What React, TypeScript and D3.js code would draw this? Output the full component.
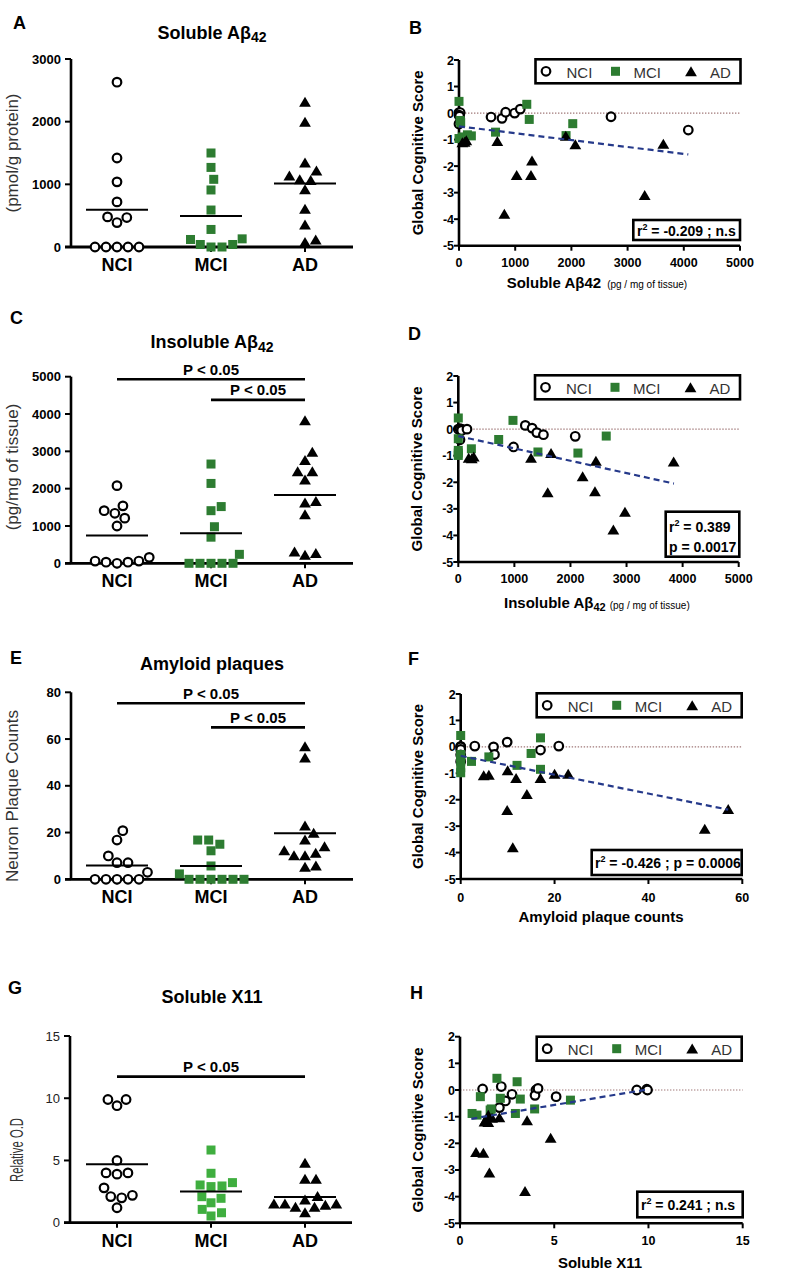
import React from 'react';
import * as d3 from 'd3';

const FONT = "'Liberation Sans', Arial, Helvetica, sans-serif";
const GROUPS = ['NCI', 'MCI', 'AD'];
const GREEN = '#2d7c31';
const GREEN_G = '#3fae3f';
const NAVY = '#25398a';

// ---------- Panel A: Soluble Abeta42 (pmol/g protein)
const solubleNCI = [2630, 1420, 1040, 720, 480, 390, 470, 0, 0, 0, 0, 0];
const solubleMCI = [1500, 1270, 1080, 910, 590, 280, 120, 40, 0, 0, 40, 130];
const solubleAD = [2310, 1990, 1340, 1210, 1130, 1070, 1060, 910, 600, 350, 110, 70];
const solubleTicks = [0, 1000, 2000, 3000];

// ---------- Panel C: Insoluble Abeta42 (pg/mg tissue)
const insolubleNCI = [2080, 1540, 1410, 1340, 1210, 1000, 160, 60, 60, 30, 30, 0];
const insolubleMCI = [2660, 2140, 1520, 1410, 980, 700, 240, 0, 0, 0, 0, 0];
const insolubleAD = [3820, 2970, 2750, 2450, 2450, 2230, 1650, 1610, 1300, 300, 260, 210];
const insolubleTicks = [0, 1000, 2000, 3000, 4000, 5000];
const insolubleSig = [4930, 4380];

// ---------- Panel E: Amyloid plaques
const plaqueNCI = [20.8, 16.8, 10, 7.1, 7.1, 3, 0, 0, 0, 0, 0];
const plaqueMCI = [16.8, 16.8, 15, 12.2, 5.7, 2.3, 0, 0, 0, 0, 0, 0];
const plaqueAD = [56.7, 51.8, 22.8, 19.7, 16.8, 13.9, 12.2, 11.1, 10, 10, 5.7, 5.1];
const plaqueTicks = [0, 20, 40, 60, 80];
const plaqueSig = [75.3, 65];

// ---------- Panel G: Soluble X11 (relative O.D)
const x11NCI = [9.9, 9.4, 9.9, 5.0, 4.0, 3.9, 4.0, 2.8, 2.2, 2.1, 2.0, 1.2];
const x11MCI = [5.84, 3.97, 3.22, 3.03, 2.95, 2.9, 2.09, 1.96, 1.6, 1.07, 0.8, 0.54];
const x11AD = [4.77, 3.49, 3.49, 2.09, 1.82, 1.5, 1.5, 1.5, 1.4, 1.24, 1.24, 0.8];
const x11Ticks = [0, 5, 10, 15];
const x11Sig = [11.74];

// ---------- Scatter panels: [x, global cognitive score]
const scoreTicks = [-5, -4, -3, -2, -1, 0, 1, 2];

const bNCI = [[0, 0.02], [20, 0.02], [0, -0.08], [10, -0.12], [0, -0.41], [570, -0.15], [765, -0.2], [830, 0.03], [990, 0.0], [1090, 0.15], [2705, -0.14], [4080, -0.64]];
const bMCI = [[0, 0.44], [20, -0.28], [30, -0.36], [0, -0.96], [150, -0.82], [220, -0.86], [650, -0.72], [1206, 0.33], [1250, -0.24], [1905, -0.85], [2024, -0.4], [60, -0.9]];
const bAD = [[100, -1.1], [130, -1.05], [60, -1.12], [682, -1.08], [807, -3.82], [1026, -2.36], [1281, -2.36], [1299, -1.81], [1900, -0.88], [2070, -1.2], [3304, -3.11], [3636, -1.18]];
const bXTicks = [0, 1000, 2000, 3000, 4000, 5000];
const bRegX = [0, 4080];
const bRegCoef = [-0.5, -0.00026];

const dNCI = [[0, 0.0], [30, 0.02], [60, 0.0], [60, -0.05], [30, -0.4], [155, 0.0], [985, -0.67], [1195, 0.14], [1316, 0.04], [1400, -0.13], [1518, -0.21], [2085, -0.27]];
const dMCI = [[0, 0.42], [0, -0.36], [0, -0.8], [0, -0.99], [0, -0.9], [233, -0.74], [720, -0.39], [975, 0.33], [1420, -0.86], [2133, -0.9], [2638, -0.26]];
const dAD = [[185, -1.1], [275, -1.05], [240, -1.12], [1297, -1.1], [1654, -0.92], [2454, -1.21], [3840, -1.24], [1594, -2.4], [2217, -1.8], [2437, -2.36], [2765, -3.8], [2972, -3.13]];
const dXTicks = [0, 1000, 2000, 3000, 4000, 5000];
const dRegX = [0, 3845];
const dRegCoef = [-0.26, -0.000465];

const fNCI = [[0, 0.02], [0, 0.0], [0, -0.1], [0, -0.3], [0, -0.55], [3, 0.03], [7, 0.0], [7.2, -0.29], [9.9, 0.18], [17, -0.12], [20.9, 0.03]];
const fMCI = [[0, 0.43], [0, -0.29], [0, -0.54], [0, -0.79], [0, -0.98], [0, -0.4], [2.3, -0.55], [6, -0.38], [12, -0.7], [15, -0.25], [17, 0.34], [17, -0.85]];
const fAD = [[4.9, -1.1], [6, -1.08], [10, -0.91], [11.8, -1.2], [17, -1.2], [20, -1.04], [22.9, -1.04], [9.9, -2.41], [11.1, -3.82], [14.1, -1.81], [52, -3.12], [57, -2.37]];
const fXTicks = [0, 20, 40, 60];
const fRegX = [0, 57];
const fRegCoef = [-0.34, -0.0357];

const hNCI = [[1.2, 0.04], [2.19, 0.13], [2.76, -0.16], [2.41, -0.41], [2.09, -0.66], [4.03, 0], [3.98, -0.2], [4.14, 0.06], [5.1, -0.25], [9.38, 0], [9.91, 0.03], [9.95, 0.0]];
const hMCI = [[1.96, 0.44], [3.03, 0.31], [1.08, -0.25], [2.14, -0.31], [3.2, -0.34], [0.64, -0.88], [0.9, -0.94], [1.66, -0.71], [1.6, -0.75], [2.94, -0.88], [3.96, -0.71], [5.86, -0.38]];
const hAD = [[1.35, -1.16], [1.3, -1.2], [1.7, -1.06], [2.09, -1.04], [3.56, -1.16], [0.85, -2.35], [1.24, -2.38], [1.56, -3.12], [3.45, -3.81], [4.81, -1.81], [1.5, -0.95], [1.5, -1.22]];
const hXTicks = [0, 5, 10, 15];
const hRegX = [0.6, 10];
const hRegCoef = [-1.151, 0.118];

type Pt = { x: number; y: number };

function swarm(vals: number[], y: (v: number) => number, cx: number, d: number): Pt[] {
  const idx = vals.map((_, i) => i).sort((a, b) => vals[a] - vals[b]);
  const placed: Pt[] = [];
  const out: Pt[] = new Array(vals.length);
  for (const i of idx) {
    const py = y(vals[i]);
    const cands = [cx];
    for (const p of placed) {
      const dy = Math.abs(p.y - py);
      if (dy < d) {
        const dx = Math.sqrt(d * d - dy * dy);
        cands.push(p.x + dx, p.x - dx);
      }
    }
    cands.sort((a, b) => Math.abs(a - cx) - Math.abs(b - cx) || b - a);
    let chosen = cx;
    for (const c of cands) {
      if (placed.every(p => (p.x - c) ** 2 + (p.y - py) ** 2 >= d * d - 0.05)) {
        chosen = c;
        break;
      }
    }
    const pt = { x: chosen, y: py };
    placed.push(pt);
    out[i] = pt;
  }
  return out;
}

function Marker({ kind, x, y, green }: { kind: string; x: number; y: number; green: string }) {
  if (kind === 'NCI') return <circle cx={x} cy={y} r={4.3} fill="#fff" stroke="#000" strokeWidth={2.2} />;
  if (kind === 'MCI') return <rect x={x - 4.5} y={y - 4.5} width={9} height={9} fill={green} />;
  return <path d={`M${x},${y - 5.6}L${x + 5.9},${y + 4.4}L${x - 5.9},${y + 4.4}Z`} fill="#000" />;
}

type DotProps = {
  letter: string; lx: number; ly: number;
  title: React.ReactNode; titleY: number;
  axisX: number; axisRight: number; yBottom: number; yTop: number; yMax: number; ticks: number[];
  tickBold: boolean;
  ylabel: string; ylx: number; ylcy: number; ylLen?: number; ylSize?: number;
  data: number[][]; green: string;
  sigs: { from: string; to: string; v: number }[];
  catY: number;
};

function DotPanel(p: DotProps) {
  const y = d3.scaleLinear().domain([0, p.yMax]).range([p.yBottom, p.yTop]);
  const x = d3.scalePoint<string>().domain(GROUPS).range([117, 305]);
  return (
    <g>
      <text x={p.lx} y={p.ly} fontSize={18} fontWeight="bold">{p.letter}</text>
      <text x={212} y={p.titleY} fontSize={18} fontWeight="bold" textAnchor="middle">{p.title}</text>
      <text transform={`translate(${p.ylx},${p.ylcy}) rotate(-90)`} textAnchor="middle" fontSize={p.ylSize ?? 17}
        fill="#333" textLength={p.ylLen} lengthAdjust={p.ylLen ? 'spacingAndGlyphs' : undefined}>{p.ylabel}</text>
      {p.ticks.map(t => (
        <g key={t}>
          <line x1={p.axisX - 6} x2={p.axisX} y1={y(t)} y2={y(t)} stroke="#000" strokeWidth={2} />
          <text x={p.axisX - 10} y={y(t)} dy="0.36em" textAnchor="end" fontSize={13}
            fontWeight={p.tickBold ? 'bold' : 'normal'} fill={p.tickBold ? '#000' : '#222'}>{t}</text>
        </g>
      ))}
      <line x1={p.axisX} x2={p.axisX} y1={p.yTop} y2={p.yBottom} stroke="#000" strokeWidth={2.6} />
      <line x1={p.axisX - 6} x2={p.axisRight} y1={p.yBottom} y2={p.yBottom} stroke="#000" strokeWidth={2.8} />
      {GROUPS.map(g => (
        <g key={g}>
          <line x1={x(g)!} x2={x(g)!} y1={p.yBottom} y2={p.yBottom + 5} stroke="#000" strokeWidth={2} />
          <text x={x(g)!} y={p.catY} textAnchor="middle" fontSize={18} fontWeight="bold">{g}</text>
        </g>
      ))}
      {p.sigs.map((s, i) => {
        const x1 = x(s.from)!, x2 = x(s.to)!;
        return (
          <g key={i}>
            <line x1={x1} x2={x2} y1={y(s.v)} y2={y(s.v)} stroke="#000" strokeWidth={2.6} />
            <text x={(x1 + x2) / 2} y={y(s.v) - 4.5} textAnchor="middle" fontSize={15} fontWeight="bold">P &lt; 0.05</text>
          </g>
        );
      })}
      {GROUPS.map((g, gi) => {
        const vals = p.data[gi];
        const cx = x(g)!;
        const pts = swarm(vals, y, cx, 11);
        const m = d3.mean(vals)!;
        return (
          <g key={g}>
            {pts.map((pt, i) => <Marker key={i} kind={g} x={pt.x} y={pt.y} green={p.green} />)}
            <line x1={cx - 31} x2={cx + 31} y1={y(m)} y2={y(m)} stroke="#000" strokeWidth={2} />
          </g>
        );
      })}
    </g>
  );
}

function Legend({ L, T }: { L: number; T: number }) {
  const cy = T + 12;
  return (
    <g>
      <rect x={L} y={T} width={205} height={24} fill="#fff" stroke="#000" strokeWidth={2.6} />
      <Marker kind="NCI" x={L + 10.5} y={cy} green={GREEN} />
      <text x={L + 31} y={T + 18.5} fontSize={15} fill="#333">NCI</text>
      <Marker kind="MCI" x={L + 80} y={cy} green={GREEN} />
      <text x={L + 98} y={T + 18.5} fontSize={15} fill="#333">MCI</text>
      <Marker kind="AD" x={L + 155.5} y={cy + 0.5} green={GREEN} />
      <text x={L + 174.5} y={T + 18.5} fontSize={15} fill="#333">AD</text>
    </g>
  );
}

type ScatterProps = {
  letter: string; lx: number; ly: number;
  xDomain: number[]; xTicks: number[]; xr: number[]; yr: number[];
  nci: number[][]; mci: number[][]; ad: number[][];
  regX: number[]; regCoef: number[];
  legend: number[];
  box: number[]; statLines: React.ReactNode[]; statX: number; statBase: number[];
  ylx: number; ylcy: number; xtickY: number; xtitle: React.ReactNode;
};

function ScatterPanel(p: ScatterProps) {
  const x = d3.scaleLinear().domain(p.xDomain).range(p.xr);
  const y = d3.scaleLinear().domain([-5, 2]).range(p.yr);
  const reg = d3.line<number>().x(v => x(v)).y(v => y(p.regCoef[0] + p.regCoef[1] * v));
  const x0 = p.xr[0], x1 = p.xr[1], yb = p.yr[0], yt = p.yr[1];
  return (
    <g>
      <text x={p.lx} y={p.ly} fontSize={18} fontWeight="bold">{p.letter}</text>
      <text transform={`translate(${p.ylx},${(yb + yt) / 2}) rotate(-90)`} textAnchor="middle" fontSize={15} fontWeight="bold">Global Cognitive Score</text>
      <line x1={x0} x2={x1} y1={y(0)} y2={y(0)} stroke="#a07878" strokeWidth={1.2} strokeDasharray="1.4,1.6" />
      {scoreTicks.map(t => (
        <g key={t}>
          <line x1={x0 - 5} x2={x0} y1={y(t)} y2={y(t)} stroke="#000" strokeWidth={2} />
          <text x={x0 - 5} y={y(t)} dy="0.36em" textAnchor="end" fontSize={12.5} fontWeight="bold">{t}</text>
        </g>
      ))}
      {p.xTicks.map(t => (
        <g key={t}>
          <line x1={x(t)} x2={x(t)} y1={yb} y2={yb + 5} stroke="#000" strokeWidth={2} />
          <text x={x(t)} y={p.xtickY} textAnchor="middle" fontSize={12.5} fontWeight="bold">{t}</text>
        </g>
      ))}
      <line x1={x0} x2={x0} y1={yt} y2={yb} stroke="#000" strokeWidth={2.6} />
      <line x1={x0} x2={x1} y1={yb} y2={yb} stroke="#000" strokeWidth={2.6} />
      {p.xtitle}
      {p.nci.map((d, i) => <Marker key={'n' + i} kind="NCI" x={x(d[0])} y={y(d[1])} green={GREEN} />)}
      {p.mci.map((d, i) => <Marker key={'m' + i} kind="MCI" x={x(d[0])} y={y(d[1])} green={GREEN} />)}
      {p.ad.map((d, i) => <Marker key={'a' + i} kind="AD" x={x(d[0])} y={y(d[1])} green={GREEN} />)}
      <path d={reg(p.regX)!} fill="none" stroke={NAVY} strokeWidth={2.2} strokeDasharray="6,4" />
      <Legend L={p.legend[0]} T={p.legend[1]} />
      <rect x={p.box[0]} y={p.box[1]} width={p.box[2]} height={p.box[3]} fill="#fff" stroke="#000" strokeWidth={2.6} />
      {p.statLines.map((ln, i) => (
        <text key={i} x={p.statX} y={p.statBase[i]} fontSize={14} fontWeight="bold">{ln}</text>
      ))}
    </g>
  );
}

const r2 = (rest: string) => (
  <>r<tspan fontSize={9} dy={-6}>2</tspan><tspan dy={6}>{rest}</tspan></>
);

export default function App() {
  return (
    <svg width={800} height={1273} style={{ position: 'absolute', left: 0, top: 0, display: 'block', background: '#fff' }}
      fontFamily={FONT}>
      <rect x={0} y={0} width={800} height={1273} fill="#fff" />
      <DotPanel letter="A" lx={13} ly={28.5} title={<>Soluble Aβ<tspan fontSize={14} dy={3}>42</tspan></>} titleY={38.5}
        axisX={71} axisRight={353} yBottom={247} yTop={59} yMax={3000} ticks={solubleTicks} tickBold={true}
        ylabel="(pmol/g protein)" ylx={18} ylcy={153}
        data={[solubleNCI, solubleMCI, solubleAD]} green={GREEN} sigs={[]} catY={270.5} />
      <DotPanel letter="C" lx={10} ly={323.5} title={<>Insoluble Aβ<tspan fontSize={14} dy={4}>42</tspan></>} titleY={348}
        axisX={71} axisRight={353} yBottom={563.3} yTop={376.7} yMax={5000} ticks={insolubleTicks} tickBold={true}
        ylabel="(pg/mg of tissue)" ylx={18} ylcy={467}
        data={[insolubleNCI, insolubleMCI, insolubleAD]} green={GREEN}
        sigs={[{ from: 'NCI', to: 'AD', v: insolubleSig[0] }, { from: 'MCI', to: 'AD', v: insolubleSig[1] }]} catY={586.7} />
      <DotPanel letter="E" lx={10} ly={663.5} title="Amyloid plaques" titleY={670}
        axisX={71} axisRight={353} yBottom={879.3} yTop={692.3} yMax={80} ticks={plaqueTicks} tickBold={true}
        ylabel="Neuron Plaque Counts" ylx={18} ylcy={796}
        data={[plaqueNCI, plaqueMCI, plaqueAD]} green={GREEN}
        sigs={[{ from: 'NCI', to: 'AD', v: plaqueSig[0] }, { from: 'MCI', to: 'AD', v: plaqueSig[1] }]} catY={903} />
      <DotPanel letter="G" lx={8} ly={993.5} title="Soluble X11" titleY={1002.7}
        axisX={70} axisRight={352} yBottom={1222.7} yTop={1036} yMax={15} ticks={x11Ticks} tickBold={false}
        ylabel="Relative O.D" ylx={23} ylcy={1150} ylLen={64} ylSize={19}
        data={[x11NCI, x11MCI, x11AD]} green={GREEN_G}
        sigs={[{ from: 'NCI', to: 'AD', v: x11Sig[0] }]} catY={1246.7} />

      <ScatterPanel letter="B" lx={409} ly={33.5} xDomain={[0, 5000]} xTicks={bXTicks} xr={[459, 740]} yr={[245.7, 60]}
        nci={bNCI} mci={bMCI} ad={bAD} regX={bRegX} regCoef={bRegCoef} legend={[535.5, 59.3]}
        box={[633.3, 220, 106.7, 20]} statLines={[r2(' = -0.209 ; n.s')]} statX={637} statBase={[235.5]}
        ylx={423} ylcy={152} xtickY={266.7}
        xtitle={<text x={506.7} y={288.3} fontSize={15} fontWeight="bold">Soluble Aβ42<tspan fontSize={10} fontWeight="normal" dx={6}>(pg / mg of tissue)</tspan></text>} />
      <ScatterPanel letter="D" lx={408} ly={340} xDomain={[0, 5000]} xTicks={dXTicks} xr={[458.3, 738.7]} yr={[562, 376]}
        nci={dNCI} mci={dMCI} ad={dAD} regX={dRegX} regCoef={dRegCoef} legend={[535, 375.3]}
        box={[665.7, 511.7, 73.6, 45]} statLines={[r2(' = 0.389'), 'p = 0.0017']} statX={669} statBase={[532, 551.5]}
        ylx={422} ylcy={468} xtickY={582.7}
        xtitle={<text x={504} y={608.3} fontSize={15} fontWeight="bold">Insoluble Aβ<tspan fontSize={11} dy={3}>42</tspan><tspan fontSize={10} fontWeight="normal" dx={4} dy={-2}>(pg / mg of tissue)</tspan></text>} />
      <ScatterPanel letter="F" lx={408} ly={665} xDomain={[0, 60]} xTicks={fXTicks} xr={[460.7, 742.3]} yr={[879, 694]}
        nci={fNCI} mci={fMCI} ad={fAD} regX={fRegX} regCoef={fRegCoef} legend={[536.7, 693.3]}
        box={[591.7, 850, 150, 25]} statLines={[r2(' = -0.426 ; p = 0.0006')]} statX={595} statBase={[867.5]}
        ylx={423} ylcy={786} xtickY={901.7}
        xtitle={<text x={601} y={921.5} fontSize={15} fontWeight="bold" textAnchor="middle">Amyloid plaque counts</text>} />
      <ScatterPanel letter="H" lx={410} ly={998.5} xDomain={[0, 15]} xTicks={hXTicks} xr={[460, 742.7]} yr={[1223.3, 1036.7]}
        nci={hNCI} mci={hMCI} ad={hAD} regX={hRegX} regCoef={hRegCoef} legend={[536.7, 1036.7]}
        box={[637.3, 1191.7, 105.4, 25.6]} statLines={[r2(' = 0.241 ; n.s')]} statX={641} statBase={[1210]}
        ylx={423} ylcy={1130} xtickY={1245}
        xtitle={<text x={600} y={1267.5} fontSize={15} fontWeight="bold" textAnchor="middle">Soluble X11</text>} />
    </svg>
  );
}
